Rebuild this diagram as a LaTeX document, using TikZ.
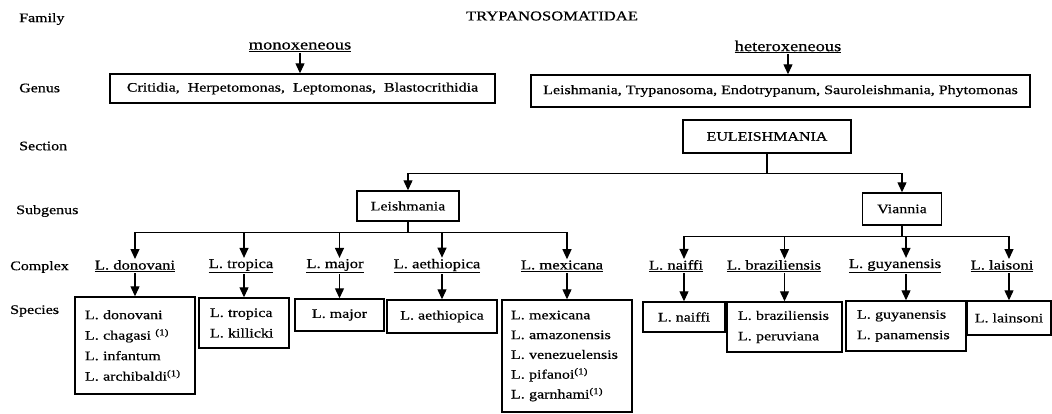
\documentclass[tikz,border=0pt]{standalone}
\usepackage{fontspec}
\setmainfont{Liberation Serif}[FakeStretch=1.23,FakeBold=0.6]
\usetikzlibrary{arrows.meta}
\begin{document}
\begin{tikzpicture}[x=1pt,y=-1pt,
  arr/.style={-{Triangle[width=9pt,length=10pt]}, line width=1.2pt},
  ln/.style={line width=1.2pt},
  lbl/.style={anchor=west, inner sep=0pt, font=\fontsize{13}{15}\selectfont},
  bx/.style={draw, line width=1.4pt, inner sep=0pt, font=\fontsize{13}{15}\selectfont},
  cx/.style={inner sep=1pt, font=\fontsize{13.5}{15}\selectfont},
  sp/.style={draw, line width=1.4pt, inner ysep=0pt, align=left, font=\fontsize{13}{20.5}\selectfont},
  sq/.style={draw, line width=1.4pt, inner sep=0pt, font=\fontsize{13}{15}\selectfont},
]
\useasboundingbox (0,0) rectangle (1052,414);

% left labels
\node[lbl] (lfam) at (19,19) {Family};
\node[lbl] (lgen) at (19,88) {Genus};
\node[lbl] (lsec) at (19,146) {Section};
\node[lbl] (lsub) at (16,211) {Subgenus};
\node[lbl] (lcom) at (10,267) {Complex};
\node[lbl] (lspe) at (10,311) {Species};

% family and genus
\node[inner sep=0pt, font=\fontsize{13.5}{15}\selectfont] (fam) at (552,16) {TRYPANOSOMATIDAE};
\node[inner sep=1pt, font=\fontsize{15}{17}\selectfont] (mono) at (300,47) {\underline{monoxeneous}};
\node[inner sep=1pt, font=\fontsize{15}{17}\selectfont] (hetero) at (788,47) {\underline{heteroxeneous}};
\node[bx, minimum width=385pt, minimum height=29pt] (g1) at (302.5,88.5) {Critidia,\ \ Herpetomonas,\ \ Leptomonas,\ \ Blastocrithidia};
\node[bx, minimum width=499pt, minimum height=32pt] (g2) at (780.5,91) {Leishmania, Trypanosoma, Endotrypanum, Sauroleishmania, Phytomonas};
\draw[arr] (mono.south) -- (mono.south |- g1.north);
\draw[arr] (hetero.south) -- (hetero.south |- g2.north);

% section and subgenus
\node[bx, minimum width=168pt, minimum height=33pt] (eul) at (767,136.5) {EULEISHMANIA};
\node[bx, minimum width=102pt, minimum height=30pt] (leish) at (408,206) {Leishmania};
\node[bx, minimum width=79pt, minimum height=32pt] (vian) at (902,209) {Viannia};
\draw[ln] (eul.south) -- ++(0,20) coordinate (ej);
\draw[arr] (ej) -| (leish.north);
\draw[arr] (ej) -| (vian.north);

% complexes
\node[cx] (cdon) at (135,266) {\underline{L. donovani}};
\node[cx] (ctro) at (241,266) {\underline{L. tropica}};
\node[cx] (cmaj) at (335,266) {\underline{L. major}};
\node[cx] (caet) at (437,266) {\underline{L. aethiopica}};
\node[cx] (cmex) at (562,266) {\underline{L. mexicana}};
\node[cx] (cnai) at (676,266) {\underline{L. naiffi}};
\node[cx] (cbra) at (774,266) {\underline{L. braziliensis}};
\node[cx] (cguy) at (895,266) {\underline{L. guyanensis}};
\node[cx] (clai) at (1002,266) {\underline{L. laisoni}};

% species
\node[sp, text width=100pt, inner xsep=10pt, minimum height=97pt] (sdon) at (135,345.5)
  {L. donovani\\L. chagasi \textsuperscript{(1)}\\L. infantum\\L. archibaldi\textsuperscript{(1)}};
\node[sp, text width=68pt, inner xsep=11pt, minimum height=50pt] (stro) at (244,323)
  {L. tropica\\L. killicki};
\node[sq, minimum width=89pt, minimum height=32pt] (smaj) at (339.5,315) {L. major};
\node[sq, minimum width=110pt, minimum height=33pt] (saet) at (442,316.5) {L. aethiopica};
\node[sp, text width=112pt, inner xsep=9pt, minimum height=112pt, font=\fontsize{13}{19.8}\selectfont] (smex) at (567,356)
  {L. mexicana\\L. amazonensis\\L. venezuelensis\\L. pifanoi\textsuperscript{(1)}\\L. garnhami\textsuperscript{(1)}};
\node[sq, minimum width=82pt, minimum height=30pt] (snai) at (684,317) {L. naiffi};
\node[sp, text width=93pt, inner xsep=11pt, minimum height=50pt] (sbra) at (784.5,327)
  {L. braziliensis\\L. peruviana};
\node[sp, text width=98pt, inner xsep=11pt, minimum height=50pt] (sguy) at (906,326)
  {L. guyanensis\\L. panamensis};
\node[sq, minimum width=84pt, minimum height=34pt] (slai) at (1009,318) {L. lainsoni};

% subgenus to complexes
\draw[ln] (leish.south) -- ++(0,11) coordinate (lj);
\draw[ln] (vian.south) -- ++(0,11) coordinate (vj);
\foreach \c/\s in {cdon/sdon, ctro/stro, cmaj/smaj, caet/saet, cmex/smex} {
  \draw[arr] (lj) -| (\c.north -| \s.north);
}
\foreach \c/\s in {cnai/snai, cbra/sbra, cguy/sguy, clai/slai} {
  \draw[arr] (vj) -| (\c.north -| \s.north);
}
% complexes to species
\foreach \c/\s in {cdon/sdon, ctro/stro, cmaj/smaj, caet/saet, cmex/smex, cnai/snai, cbra/sbra, cguy/sguy, clai/slai} {
  \draw[arr] (\c.south -| \s.north) -- (\s.north);
}
\end{tikzpicture}
\end{document}
